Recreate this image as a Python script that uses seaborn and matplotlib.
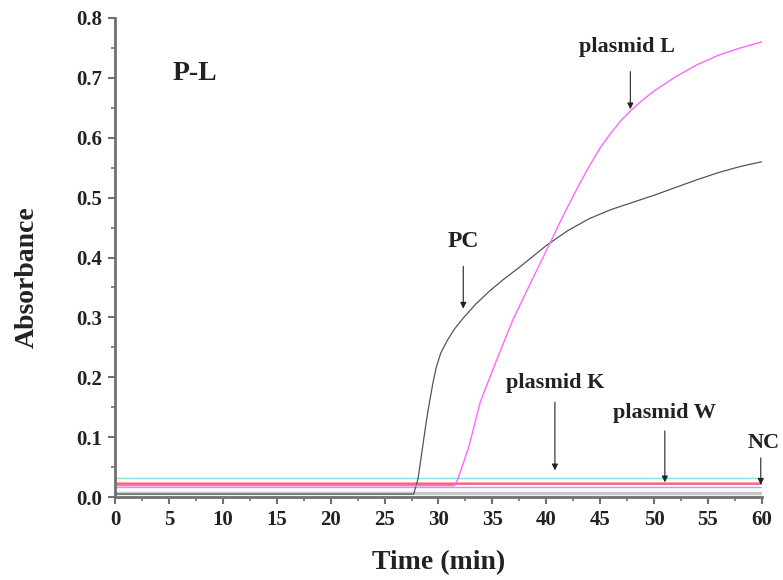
import numpy as np
import pandas as pd
import matplotlib
matplotlib.use("Agg")
import matplotlib.pyplot as plt
from matplotlib.ticker import MultipleLocator, FormatStrFormatter
import seaborn as sns

# -------------------- Data -------------------- #
pc_time = [0, 27.7, 28.1, 28.5, 28.9, 29.2, 29.5, 29.8, 30.2, 30.8, 31.5, 32.3, 33.5, 34.8,
           36.0, 37.6, 40.0, 42.0, 44.0, 46.0, 48.0, 50.0, 52.0, 54.0, 56.0, 58.0, 60.0]
pc_abs = [0.005, 0.005, 0.03, 0.08, 0.13, 0.162, 0.192, 0.217, 0.24, 0.261, 0.281, 0.299, 0.323, 0.345,
          0.363, 0.385, 0.42, 0.445, 0.465, 0.48, 0.492, 0.504, 0.517, 0.53, 0.542, 0.552, 0.56]

plL_time = [0, 31.5, 31.8, 32.8, 33.9, 35.4, 36.9, 38.8, 40.4, 41.3, 42.0, 43.0, 44.0, 45.0,
            46.0, 47.0, 48.0, 49.0, 50.0, 52.0, 54.0, 56.0, 58.0, 60.0]
plL_abs = [0.019, 0.019, 0.03, 0.083, 0.16, 0.229, 0.296, 0.367, 0.426, 0.46, 0.485, 0.52, 0.553, 0.583,
           0.608, 0.63, 0.648, 0.664, 0.678, 0.702, 0.722, 0.738, 0.75, 0.76]

flat_time = [0, 60]
plK_abs = [0.031, 0.031]
plW_abs = [0.024, 0.024]
red_abs = [0.021, 0.021]
nc_abs = [0.016, 0.016]
bg_abs = [0.006, 0.006]

# -------------------- Build long table -------------------- #
frames = [
    pd.DataFrame({"time": flat_time, "abs": bg_abs, "sample": "bg"}),
    pd.DataFrame({"time": flat_time, "abs": plK_abs, "sample": "plasmid K"}),
    pd.DataFrame({"time": flat_time, "abs": plW_abs, "sample": "plasmid W"}),
    pd.DataFrame({"time": flat_time, "abs": red_abs, "sample": "red"}),
    pd.DataFrame({"time": flat_time, "abs": nc_abs, "sample": "NC"}),
    pd.DataFrame({"time": pc_time, "abs": pc_abs, "sample": "PC"}),
    pd.DataFrame({"time": plL_time, "abs": plL_abs, "sample": "plasmid L"}),
]
df = pd.concat(frames, ignore_index=True)

palette = {"bg": "#c8c8c8", "plasmid K": "#88dde6", "plasmid W": "#ffa080",
           "red": "#ff4d94", "NC": "#a8a8ff", "PC": "#555555", "plasmid L": "#ff66ff"}
widths = {"bg": 2.5, "plasmid K": 1.0, "plasmid W": 1.2, "red": 1.2, "NC": 1.0,
          "PC": 0.9, "plasmid L": 1.0}

sns.set_style("ticks")
plt.rcParams['font.family'] = ['Liberation Serif', 'DejaVu Serif']

fig = plt.figure(figsize=(7.83, 5.8), dpi=100)
ax = fig.add_axes([0.147, 0.143, 0.826, 0.826])

for name in palette:
    sub = df[df["sample"] == name]
    sns.lineplot(data=sub, x="time", y="abs", color=palette[name],
                 linewidth=widths[name], ax=ax, legend=False)

ax.set_xlim(0, 60)
ax.set_ylim(0, 0.8)
ax.xaxis.set_major_locator(MultipleLocator(5))
ax.xaxis.set_minor_locator(MultipleLocator(2.5))
ax.yaxis.set_major_locator(MultipleLocator(0.1))
ax.yaxis.set_minor_locator(MultipleLocator(0.05))
ax.yaxis.set_major_formatter(FormatStrFormatter("%.1f"))

sns.despine(ax=ax)
for sp in ["left", "bottom"]:
    ax.spines[sp].set_linewidth(2.0)
    ax.spines[sp].set_color("#707070")
ax.tick_params(which="major", length=5, width=1.5, color="#707070", direction="out", pad=4)
ax.tick_params(which="minor", length=3, width=1.2, color="#707070", direction="out")
for lab in ax.get_xticklabels() + ax.get_yticklabels():
    lab.set_fontweight("bold")
    lab.set_fontsize(15)
    lab.set_color("#222222")

ax.set_xlabel("Time (min)", fontsize=20, fontweight="bold", color="#222222")
ax.set_ylabel("Absorbance", fontsize=20, fontweight="bold", color="#222222")
ax.xaxis.set_label_coords(0.5, -0.11)
ax.yaxis.set_label_coords(-0.117, 0.459)

# -------------------- Annotations -------------------- #
arrowprops = dict(arrowstyle="-|>", color="#222222", lw=0.8, mutation_scale=9)
tk = dict(fontweight="bold", ha="center", va="center", color="#222222")
ax.text(7.4, 0.708, "P-L", fontsize=20, **tk)
ax.text(32.3, 0.427, "PC", fontsize=17, **tk)
ax.annotate("", xy=(32.3, 0.31), xytext=(32.3, 0.39), arrowprops=arrowprops)
ax.text(47.5, 0.752, "plasmid L", fontsize=16, **tk)
ax.annotate("", xy=(47.8, 0.643), xytext=(47.8, 0.715), arrowprops=arrowprops)
ax.text(40.8, 0.19, "plasmid K", fontsize=16, **tk)
ax.annotate("", xy=(40.8, 0.04), xytext=(40.8, 0.163), arrowprops=arrowprops)
ax.text(51.0, 0.141, "plasmid W", fontsize=16, **tk)
ax.annotate("", xy=(51.0, 0.02), xytext=(51.0, 0.115), arrowprops=arrowprops)
ax.text(60.2, 0.09, "NC", fontsize=16, clip_on=False, **tk)
ax.annotate("", xy=(59.9, 0.016), xytext=(59.9, 0.07), arrowprops=arrowprops, annotation_clip=False)

fig.savefig("out.png", dpi=100)
